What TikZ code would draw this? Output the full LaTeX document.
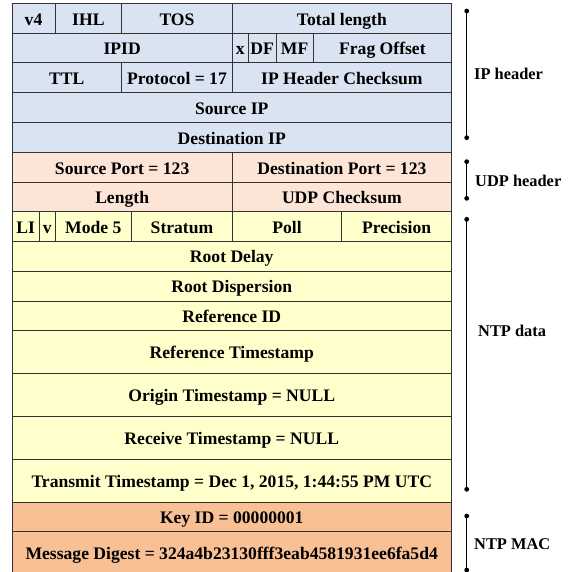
\documentclass[tikz,border=0pt]{standalone}
\usepackage{fontspec}
\setmainfont{Liberation Serif}
\usetikzlibrary{calc}
\definecolor{ipc}{HTML}{DAE3F1}
\definecolor{udpc}{HTML}{FCE4D7}
\definecolor{ntpc}{HTML}{FFFFCC}
\definecolor{macc}{HTML}{F8C094}
\tikzset{
  cellline/.style={draw=black!80, line width=1pt},
  celltext/.style={inner sep=0pt, anchor=base, font=\fontsize{17.6}{20}\selectfont\bfseries},
  labeltext/.style={inner sep=0pt, anchor=base west, font=\fontsize{16.4}{19}\selectfont\bfseries},
  bracket/.style={draw=black, line width=1pt},
}
\newcommand{\pcell}[7]{%
  \draw[cellline, fill=#6] (#1,#2) rectangle (#3,#4);
  \node[celltext] (#7) at ($(#1,#2)!0.5!(#3,#4)+(0,6.9)$) {#5};}
\newcommand{\brk}[3]{%
  \coordinate (#1t) at (466.7,#2);
  \coordinate (#1b) at (466.7,#3);
  \draw[bracket] (#1t) -- (#1b);
  \fill (#1t) circle (2.4);
  \fill (#1b) circle (2.4);}
\begin{document}
\begin{tikzpicture}[x=1pt, y=-1pt]
\useasboundingbox (0,0) rectangle (571,572);
\def\L{12}\def\R{451.5}\def\M{232.3}
% IP header
\pcell{\L}{4}{55}{33.3}{v4}{ipc}{v4}
\pcell{55}{4}{121.7}{33.3}{IHL}{ipc}{ihl}
\pcell{121.7}{4}{\M}{33.3}{TOS}{ipc}{tos}
\pcell{\M}{4}{\R}{33.3}{Total length}{ipc}{tlen}
\pcell{\L}{33.3}{\M}{62.7}{IPID}{ipc}{ipid}
\pcell{\M}{33.3}{248.3}{62.7}{x}{ipc}{xf}
\pcell{248.3}{33.3}{276}{62.7}{DF}{ipc}{df}
\pcell{276}{33.3}{313.3}{62.7}{MF}{ipc}{mf}
\pcell{313.3}{33.3}{\R}{62.7}{Frag Offset}{ipc}{frag}
\pcell{\L}{62.7}{121.7}{92.7}{TTL}{ipc}{ttl}
\pcell{121.7}{62.7}{\M}{92.7}{Protocol = 17}{ipc}{proto}
\pcell{\M}{62.7}{\R}{92.7}{IP Header Checksum}{ipc}{ipck}
\pcell{\L}{92.7}{\R}{122.7}{Source IP}{ipc}{srcip}
\pcell{\L}{122.7}{\R}{152.7}{Destination IP}{ipc}{dstip}
% UDP header
\pcell{\L}{152.7}{\M}{182.3}{Source Port = 123}{udpc}{sport}
\pcell{\M}{152.7}{\R}{182.3}{Destination Port = 123}{udpc}{dport}
\pcell{\L}{182.3}{\M}{211.7}{Length}{udpc}{ulen}
\pcell{\M}{182.3}{\R}{211.7}{UDP Checksum}{udpc}{uck}
% NTP data
\pcell{\L}{211.7}{39.3}{241}{LI}{ntpc}{li}
\pcell{39.3}{211.7}{55}{241}{v}{ntpc}{vn}
\pcell{55}{211.7}{131.7}{241}{Mode 5}{ntpc}{mode}
\pcell{131.7}{211.7}{\M}{241}{Stratum}{ntpc}{strat}
\pcell{\M}{211.7}{341.7}{241}{Poll}{ntpc}{poll}
\pcell{341.7}{211.7}{\R}{241}{Precision}{ntpc}{prec}
\pcell{\L}{241}{\R}{271}{Root Delay}{ntpc}{rdelay}
\pcell{\L}{271}{\R}{301}{Root Dispersion}{ntpc}{rdisp}
\pcell{\L}{301}{\R}{330.7}{Reference ID}{ntpc}{refid}
\pcell{\L}{330.7}{\R}{373.3}{Reference Timestamp}{ntpc}{refts}
\pcell{\L}{373.3}{\R}{416.7}{Origin Timestamp = NULL}{ntpc}{orits}
\pcell{\L}{416.7}{\R}{459}{Receive Timestamp = NULL}{ntpc}{rects}
\pcell{\L}{459}{\R}{502.3}{Transmit Timestamp = Dec 1, 2015, 1:44:55 PM UTC}{ntpc}{trats}
% NTP MAC
\pcell{\L}{502.3}{\R}{531.7}{Key ID = 00000001}{macc}{keyid}
\draw[cellline, fill=macc] (\L,531.7) rectangle (\R,576);
\node[celltext] (digest) at (231.7,559.5) {Message Digest = 324a4b23130fff3eab4581931ee6fa5d4};
% brackets
\brk{ip}{11}{137.7}
\brk{udp}{161.7}{198.3}
\brk{ntp}{219.3}{489.3}
\brk{mac}{516}{570}
\node[labeltext] (iplab) at (474,79.3) {IP header};
\node[labeltext] (udplab) at (475,186) {UDP header};
\node[labeltext] (ntplab) at (478,336.7) {NTP data};
\node[labeltext] (maclab) at (474,549.3) {NTP MAC};
\end{tikzpicture}
\end{document}
